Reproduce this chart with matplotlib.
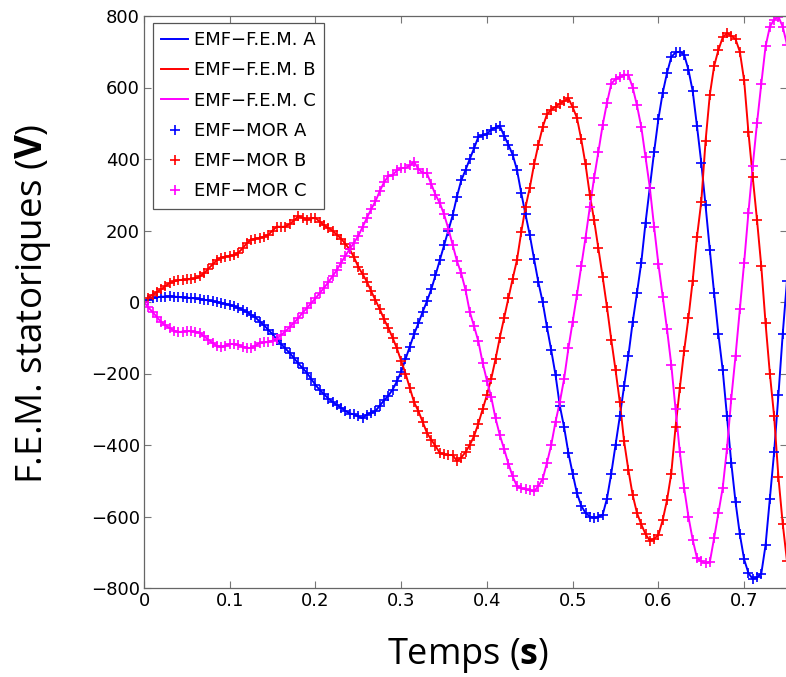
"""Stator EMF during start-up: F.E.M. reference vs MOR reduced model."""

import matplotlib

matplotlib.use("Agg")
import matplotlib.pyplot as plt
import numpy as np

# time span of the exported curves (s), fixed step
T_START = 0.0
T_END = 0.75

emf_a = [
    0, 5, 10, 13, 15, 15, 16, 15, 14, 13,
    12, 11, 10, 8, 6, 5, 2, 0, -3, -5,
    -8, -12, -16, -22, -28, -36, -43, -55, -65, -78,
    -90, -105, -118, -130, -143, -157, -172, -185, -198, -215,
    -232, -246, -258, -270, -280, -288, -296, -305, -312, -314,
    -320, -325, -315, -310, -305, -290, -275, -262, -245, -222,
    -195, -160, -125, -90, -60, -28, 2, 35, 75, 117,
    160, 200, 242, 295, 340, 369, 400, 430, 462, 466,
    470, 482, 488, 493, 465, 440, 412, 370, 305, 245,
    187, 120, 55, 0, -70, -135, -204, -290, -350, -422,
    -480, -535, -570, -590, -600, -604, -601, -595, -550, -480,
    -400, -320, -235, -150, -56, 25, 110, 222, 320, 420,
    512, 585, 640, 685, 698, 700, 692, 650, 590, 492,
    390, 270, 145, 25, -90, -190, -320, -450, -560, -650,
    -720, -758, -775, -770, -760, -680, -550, -420, -260, -90,
    60,
]

emf_b = [
    0, 12, 20, 28, 35, 45, 53, 58, 61, 62,
    63, 64, 66, 72, 80, 93, 105, 117, 124, 127,
    129, 131, 138, 150, 165, 174, 177, 179, 183, 188,
    200, 211, 210, 211, 218, 228, 240, 236, 230, 234,
    235, 225, 214, 207, 199, 188, 177, 162, 147, 125,
    98, 78, 57, 30, 5, -20, -48, -73, -100, -130,
    -165, -200, -240, -280, -305, -335, -366, -385, -403, -422,
    -426, -428, -428, -445, -435, -420, -400, -375, -340, -300,
    -260, -215, -160, -100, -45, 10, 65, 117, 195, 265,
    320, 385, 440, 489, 525, 538, 546, 555, 562, 570,
    545, 515, 455, 385, 300, 229, 150, 70, -14, -105,
    -190, -280, -390, -470, -540, -590, -622, -649, -668, -662,
    -652, -610, -555, -480, -350, -240, -137, -45, 60, 182,
    280, 450, 580, 660, 705, 740, 752, 745, 735, 700,
    620, 475, 350, 230, 100, -60, -200, -320, -490, -620,
    -725,
]

emf_c = [
    0, -15, -28, -42, -56, -65, -73, -80, -84, -83,
    -81, -82, -83, -86, -96, -105, -115, -122, -126, -122,
    -118, -117, -120, -125, -128, -129, -122, -115, -113, -112,
    -108, -103, -92, -82, -70, -58, -45, -30, -17, -3,
    10, 25, 40, 55, 72, 90, 110, 130, 148, 166,
    185, 210, 235, 260, 282, 310, 335, 352, 355, 368,
    375, 375, 382, 392, 372, 362, 360, 330, 300, 277,
    245, 205, 160, 115, 80, 34, -28, -68, -110, -170,
    -220, -266, -325, -372, -411, -452, -488, -515, -521, -524,
    -526, -530, -515, -495, -450, -400, -335, -280, -215, -130,
    -55, 20, 100, 180, 265, 347, 420, 495, 557, 610,
    624, 628, 636, 635, 600, 550, 490, 405, 320, 210,
    106, 15, -75, -175, -300, -420, -520, -600, -665, -716,
    -725, -730, -727, -660, -590, -520, -410, -270, -150, -20,
    110, 250, 380, 500, 610, 715, 770, 790, 798, 770,
    720,
]

phases = ["A", "B", "C"]
colors = ["#0000ff", "#ff0000", "#ff00ff"]
x_ticks = [0, 0.1, 0.2, 0.3, 0.4, 0.5, 0.6, 0.7]
x_tick_labels = ["0", "0.1", "0.2", "0.3", "0.4", "0.5", "0.6", "0.7"]
y_ticks = [-800, -600, -400, -200, 0, 200, 400, 600, 800]

plt.rcParams["font.family"] = ["DejaVu Sans"]
plt.rcParams["mathtext.fontset"] = "custom"
plt.rcParams["mathtext.rm"] = "Open Sans"
plt.rcParams["mathtext.bf"] = "Open Sans:bold"

series = [emf_a, emf_b, emf_c]
time = np.linspace(T_START, T_END, len(emf_a))

fig = plt.figure(figsize=(7.86, 6.77), dpi=100)
ax = fig.add_axes([144 / 786, 1 - 588 / 677, 643 / 786, 572 / 677])

for values, phase, color in zip(series, phases, colors):
    ax.plot(time, values, color=color, lw=1.4, label=f"EMF\u2212F.E.M. {phase}")
for values, phase, color in zip(series, phases, colors):
    ax.plot(time, values, ls="none", marker="+", ms=7, mew=1.2,
            color=color, label=f"EMF\u2212MOR {phase}")

ax.set_xlim(0, 0.75)
ax.set_ylim(-800, 800)
ax.set_xticks(x_ticks)
ax.set_xticklabels(x_tick_labels)
ax.set_yticks(y_ticks)
ax.set_yticklabels([str(v).replace("-", "\u2212") for v in y_ticks])
ax.tick_params(direction="in", length=5, width=0.8, color="#777777",
               labelsize=13, top=True, right=True, pad=3)
for spine in ax.spines.values():
    spine.set_color("#666666")
    spine.set_linewidth(0.9)

leg = ax.legend(loc="upper left", bbox_to_anchor=(0.014, 0.988), borderaxespad=0,
                fontsize=13, handlelength=1.5, handletextpad=0.3, labelspacing=0.68,
                borderpad=0.45, fancybox=False, framealpha=1, edgecolor="#555555")
leg.get_frame().set_linewidth(0.9)

label_font = dict(family="Open Sans", fontsize=26)
fig.text(468 / 786, 13 / 677, r"Temps ($\mathbf{s}$)", ha="center", va="baseline", **label_font)
fig.text(33 / 786, 1 - 304 / 677, r"F.E.M. statoriques ($\mathbf{V}$)", ha="center",
         va="center", rotation=90, family="Open Sans", fontsize=26.5)

fig.savefig("out.png", dpi=100, facecolor="white")
